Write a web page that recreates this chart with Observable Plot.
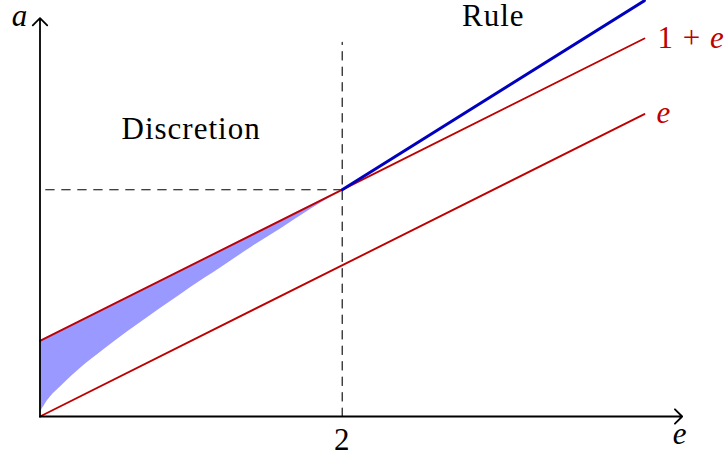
<!DOCTYPE html>
<html>
<head>
<meta charset="utf-8">
<script src="https://cdn.jsdelivr.net/npm/d3@7"></script>
<script src="https://cdn.jsdelivr.net/npm/@observablehq/plot@0.6"></script>
<style>
  html, body { margin: 0; padding: 0; background: #fff; }
</style>
</head>
<body>
<div id="chart"></div>
<script>
// ---- data ----
const lineX = [0, 4];                 // e range of the two red lines
const lineA_e = [0, 4];               // a = e
const lineA_onePlusE = [1, 5];        // a = 1 + e
const ruleX = [2, 4];                 // blue "Rule" segment
const ruleA = [3, 5.5];
const discretionE     = [0, 0.003, 0.01, 0.03, 0.07, 0.14, 0.27, 0.42, 0.58, 0.72, 0.85, 1.0, 1.2, 1.4, 1.6, 1.8, 2.0];
const discretionLower = [0, 0.04, 0.08, 0.15, 0.26, 0.40, 0.64, 0.88, 1.12, 1.32, 1.50, 1.71, 1.97, 2.24, 2.49, 2.75, 3.0];
const discretionUpper = [1, 1.003, 1.01, 1.03, 1.07, 1.14, 1.27, 1.42, 1.58, 1.72, 1.85, 2.0, 2.2, 2.4, 2.6, 2.8, 3.0];
const guideVertical   = {e: [2, 2], a: [0, 4.95]};
const guideHorizontal = {e: [2, 0], a: [3, 3]};
const axisEnds = {eMax: 4.25, aMax: 5.27};
const xTicks = [2];
const xTickLabels = ["2"];
const regionLabels = [{e: 1, a: 3.67, text: "Discretion"}, {e: 3, a: 5.16, text: "Rule"}];
const lineLabels = ["e", "1 + e"];
const axisLabels = {x: "e", y: "a"};

// ---- styles ----
const RED = "rgb(191,0,0)";
const BLUE = "rgb(0,0,191)";
const FILL = "rgb(153,153,255)";
const SERIF = "'Liberation Serif', 'DejaVu Serif', serif";
const FS = 31;

const pts = (xs, ys) => xs.map((x, i) => ({e: x, a: ys[i]}));
const band = discretionE.map((e, i) => ({e, lo: discretionLower[i], hi: discretionUpper[i]}));

const chart = Plot.plot({
  width: 724,
  height: 458,
  margin: 0,
  x: {domain: [0, 4], range: [39.5, 643.9], axis: null},
  y: {domain: [0, 5.5], range: [416, 0.2], axis: null},
  style: {fontFamily: SERIF, fontSize: FS + "px", background: "white", overflow: "visible", letterSpacing: "1px"},
  marks: [
    Plot.areaY(band, {x: "e", y1: "lo", y2: "hi", fill: FILL, curve: "monotone-x"}),
    Plot.line(pts(guideVertical.e, guideVertical.a), {x: "e", y: "a", stroke: "#000", strokeWidth: 1.1, strokeDasharray: "8.5,7"}),
    Plot.line(pts(guideHorizontal.e, guideHorizontal.a), {x: "e", y: "a", stroke: "#000", strokeWidth: 1.1, strokeDasharray: "8.5,7.5"}),
    Plot.line(pts(lineX, lineA_e), {x: "e", y: "a", stroke: RED, strokeWidth: 1.9}),
    Plot.line(pts(lineX, lineA_onePlusE), {x: "e", y: "a", stroke: RED, strokeWidth: 1.9}),
    Plot.line(pts(ruleX, ruleA), {x: "e", y: "a", stroke: BLUE, strokeWidth: 3, strokeLinecap: "round"}),
    // axes with arrow heads
    Plot.arrow([{x1: 0, y1: 0, x2: axisEnds.eMax, y2: 0}, {x1: 0, y1: 0, x2: 0, y2: axisEnds.aMax}],
      {x1: "x1", y1: "y1", x2: "x2", y2: "y2", stroke: "#000", strokeWidth: 1.8, headAngle: 90, headLength: 8.5}),
    // tick label
    Plot.text(xTicks, {x: d => d, y: 0, text: (d, i) => xTickLabels[i], lineAnchor: "bottom", dy: 33, fontSize: FS, fill: "#000"}),
    // axis labels
    Plot.text([axisLabels.x], {x: axisEnds.eMax, y: 0, text: d => d, lineAnchor: "bottom", dy: 27, dx: -2, fontStyle: "italic", fontSize: FS, fill: "#000"}),
    Plot.text([axisLabels.y], {x: 0, y: axisEnds.aMax, text: d => d, lineAnchor: "bottom", dy: 8, dx: -20, fontStyle: "italic", fontSize: FS, fill: "#000"}),
    // region labels
    Plot.text(regionLabels, {x: "e", y: "a", text: "text", lineAnchor: "bottom", fontSize: FS, fill: "#000"}),
    // line-end labels
    Plot.text([{e: lineX[1], a: lineA_e[1], t: lineLabels[0]}], {x: "e", y: "a", text: "t", textAnchor: "start", lineAnchor: "middle", dx: 12, dy: -1, fontStyle: "italic", fontSize: FS, fill: RED}),
    Plot.text([{e: lineX[1], a: lineA_onePlusE[1], t: lineLabels[1]}], {x: "e", y: "a", text: "t", textAnchor: "start", lineAnchor: "middle", dx: 13, fontSize: FS, fill: RED})
  ]
});
document.getElementById("chart").appendChild(chart);
// italic "e" inside "1 + e"
d3.select(chart).selectAll("text").each(function() {
  const t = d3.select(this);
  if (t.text() === "1 + e") {
    t.text("");
    t.append("tspan").text("1 + ");
    t.append("tspan").attr("font-style", "italic").text("e");
  }
});
</script>
</body>
</html>
